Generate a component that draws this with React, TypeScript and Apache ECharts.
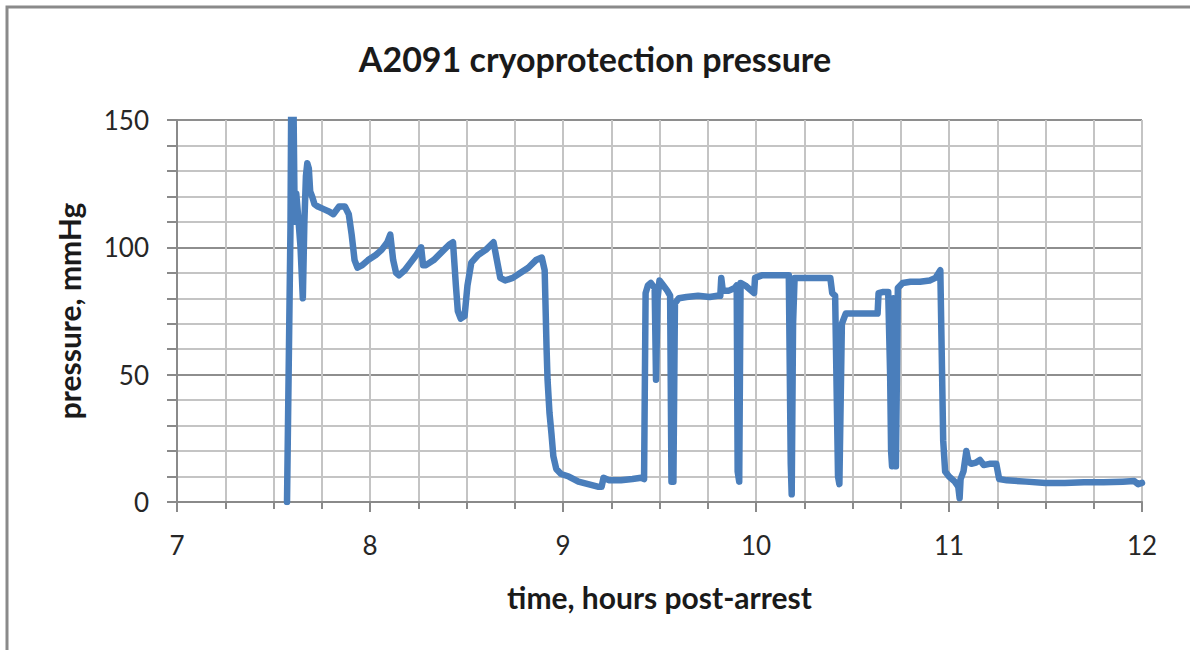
import React, { useEffect, useRef } from "react";
import * as echarts from "echarts";

const titleText = "A2091 cryoprotection pressure";
const xAxisName = "time, hours post-arrest";
const yAxisName = "pressure, mmHg";

// time (hours post-arrest)
const timeHours: number[] = [
  7.570, 7.580, 7.588, 7.592, 7.598, 7.603, 7.610, 7.618, 7.628, 7.640,
  7.652, 7.660, 7.668, 7.675, 7.683, 7.690, 7.700, 7.712, 7.730, 7.760,
  7.790, 7.810, 7.840, 7.870, 7.890, 7.905, 7.920, 7.935, 7.960, 7.990,
  8.030, 8.060, 8.090, 8.105, 8.120, 8.135, 8.150, 8.180, 8.210, 8.240,
  8.265, 8.275, 8.290, 8.330, 8.370, 8.410, 8.430, 8.445, 8.455, 8.470,
  8.490, 8.505, 8.525, 8.560, 8.600, 8.640, 8.655, 8.675, 8.700, 8.740,
  8.780, 8.820, 8.860, 8.890, 8.905, 8.915, 8.920, 8.930, 8.940, 8.950,
  8.965, 8.990, 9.030, 9.080, 9.130, 9.180, 9.200, 9.210, 9.240, 9.300,
  9.360, 9.405, 9.420, 9.428, 9.440, 9.455, 9.475, 9.482, 9.490, 9.500,
  9.520, 9.540, 9.555, 9.562, 9.572, 9.580, 9.600, 9.640, 9.700, 9.760,
  9.800, 9.815, 9.820, 9.828, 9.860, 9.890, 9.900, 9.905, 9.913, 9.920,
  9.945, 9.975, 9.990, 9.995, 10.030, 10.080, 10.130, 10.170, 10.180, 10.185,
  10.192, 10.200, 10.250, 10.300, 10.385, 10.395, 10.410, 10.425, 10.432, 10.445,
  10.465, 10.500, 10.560, 10.630, 10.635, 10.660, 10.685, 10.695, 10.700, 10.705,
  10.712, 10.718, 10.725, 10.735, 10.760, 10.800, 10.850, 10.900, 10.930, 10.955,
  10.962, 10.970, 10.980, 11.000, 11.030, 11.048, 11.055, 11.060, 11.075, 11.090,
  11.100, 11.115, 11.140, 11.160, 11.180, 11.210, 11.245, 11.260, 11.300, 11.400,
  11.500, 11.600, 11.700, 11.800, 11.900, 11.960, 11.980, 12.000,
];

// pressure (mmHg)
const pressure: number[] = [
  0, 60, 108, 160, 112, 160, 110, 121, 112, 100,
  80, 110, 128, 133, 131, 122, 120, 117, 116, 115,
  114, 113, 116, 116, 113, 105, 95, 92, 93, 95,
  97, 99, 102, 105, 95, 90, 89, 91, 94, 97,
  100, 93, 93, 95, 98, 101, 102, 85, 75, 72,
  73, 85, 94, 97, 99, 102, 96, 88, 87, 88,
  90, 92, 95, 96, 91, 60, 48, 35, 27, 18,
  13, 11, 10, 8, 7, 6, 6, 9.5, 8.5, 8.5,
  9, 9.5, 9, 82, 85, 86, 84, 48, 80, 87,
  85, 83, 81, 8, 8, 78, 80, 80.5, 81, 80.5,
  81, 81, 88, 83, 83, 84, 85, 12, 8, 86,
  85, 83, 82, 88, 89, 89, 89, 89, 15, 3,
  70, 88, 88, 88, 88, 82, 81, 10, 7, 70,
  74, 74, 74, 74, 82, 82.5, 82.5, 50, 20, 14,
  80, 18, 14, 84, 86, 86.5, 86.5, 87, 88, 91,
  60, 24, 12, 10, 8, 6, 1.5, 9, 12, 20,
  16, 15, 15.5, 16.5, 14.5, 15, 15, 9, 8.5, 8,
  7.5, 7.5, 7.8, 7.8, 8, 8.2, 7, 7.5,
];

const FONT = "Lato, 'Open Sans', sans-serif";

export default function App() {
  const ref = useRef<HTMLDivElement>(null);
  useEffect(() => {
    if (!ref.current) return;
    const chart = echarts.init(ref.current, null, { renderer: "svg" });
    const data = timeHours.map((t, i) => [t, pressure[i]]);
    chart.setOption({
      animation: false,
      backgroundColor: "#ffffff",
      title: {
        text: titleText,
        left: "center",
        top: 36,
        textStyle: { fontFamily: FONT, fontSize: 34, fontWeight: "bold", color: "#1a1a1a" },
      },
      graphic: [
        {
          type: "rect",
          shape: { x: 7, y: 7, width: 1300, height: 800 },
          style: { fill: "none", stroke: "#8a8a8a", lineWidth: 3 },
          silent: true,
        },
      ],
      grid: { left: 177, right: 48, top: 120, bottom: 148 },
      xAxis: {
        type: "value",
        min: 7,
        max: 12,
        interval: 1,
        name: xAxisName,
        nameLocation: "middle",
        nameGap: 80,
        nameTextStyle: { fontFamily: FONT, fontSize: 30, fontWeight: "bold", color: "#1a1a1a" },
        axisLine: { show: true, onZero: false, lineStyle: { color: "#8a8a8a", width: 2 } },
        axisTick: { show: true, length: 10, lineStyle: { color: "#8a8a8a", width: 2 } },
        minorTick: { show: true, splitNumber: 4, length: 7, lineStyle: { color: "#8a8a8a", width: 2 } },
        axisLabel: { fontFamily: FONT, fontSize: 26, color: "#262626", margin: 30 },
        splitLine: { show: true, lineStyle: { color: "#c4c4c4", width: 2 } },
        minorSplitLine: { show: true, lineStyle: { color: "#c4c4c4", width: 2 } },
      },
      yAxis: {
        type: "value",
        min: 0,
        max: 150,
        interval: 50,
        name: yAxisName,
        nameLocation: "middle",
        nameGap: 93,
        nameTextStyle: { fontFamily: FONT, fontSize: 30, fontWeight: "bold", color: "#1a1a1a" },
        axisLine: { show: true, lineStyle: { color: "#8a8a8a", width: 2 } },
        axisTick: { show: true, length: 10, lineStyle: { color: "#8a8a8a", width: 2 } },
        minorTick: { show: true, splitNumber: 5, length: 10, lineStyle: { color: "#8a8a8a", width: 2 } },
        axisLabel: { fontFamily: FONT, fontSize: 26, color: "#262626", margin: 28 },
        splitLine: { show: true, lineStyle: { color: "#8e8e8e", width: 2 } },
        minorSplitLine: { show: true, lineStyle: { color: "#c4c4c4", width: 2 } },
      },
      series: [
        {
          type: "line",
          data,
          showSymbol: false,
          symbol: "none",
          clip: true,
          lineStyle: { color: "#4A7EBB", width: 6.5, join: "round", cap: "round" },
          z: 5,
        },
      ],
    });
    return () => chart.dispose();
  }, []);
  return (
    <div
      ref={ref}
      style={{ position: "fixed", left: 0, top: 0, width: 1190, height: 650 }}
    />
  );
}
